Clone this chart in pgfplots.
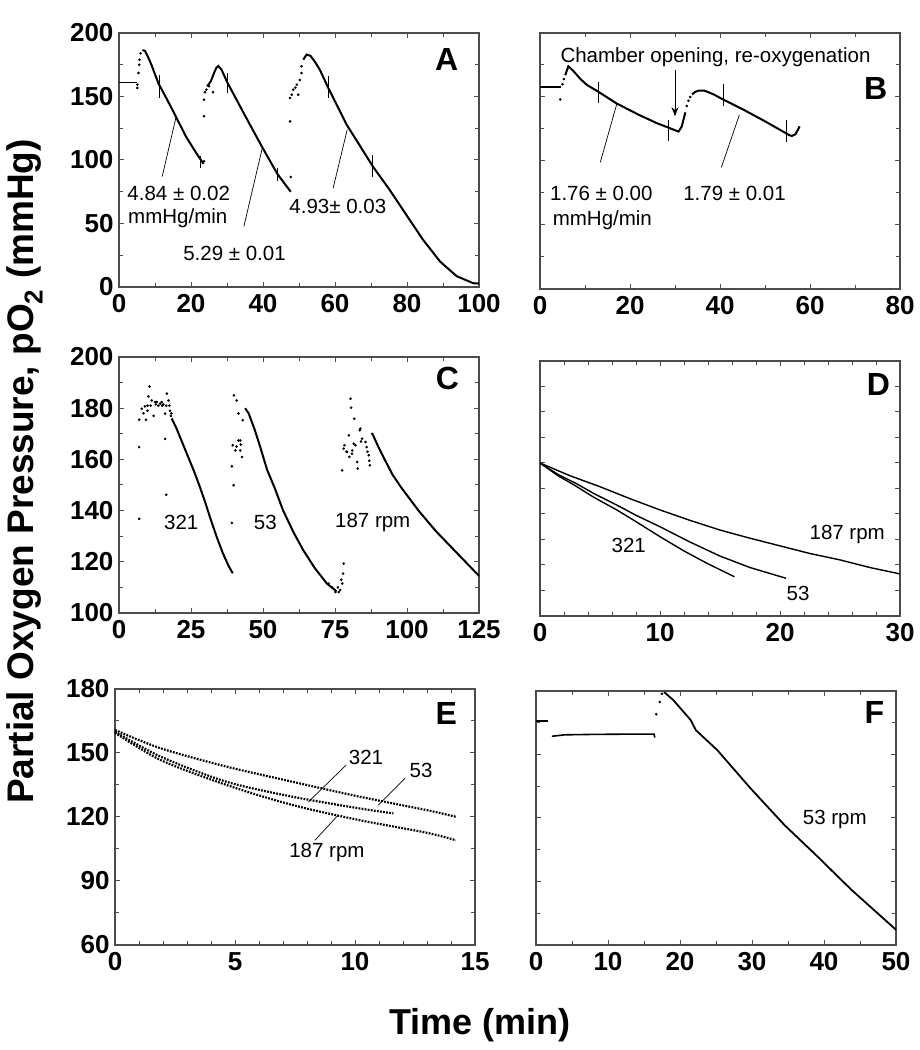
\documentclass[border=0pt]{standalone}
\usepackage{pgfplots}
\pgfplotsset{compat=1.18}
\usetikzlibrary{arrows.meta}
\usepackage{fontspec}
\setmainfont{Liberation Sans}
\newcommand\tickfont{\fontsize{26}{26}\selectfont\bfseries}
\newcommand\annfont{\fontsize{20.5}{22}\selectfont}
\newcommand\letfont{\fontsize{32}{32}\selectfont\bfseries}
\tikzset{lead/.style={black, line width=0.7pt}}
\pgfplotsset{
  panel/.style={
    scale only axis, width=360pt, height=255pt, anchor=south west,
    tick align=inside,
    axis line style={draw=black!70, line width=1.3pt},
    every tick/.style={black!70, line width=1pt},
    major tick length=5pt, minor tick length=4pt,
    tick label style={font=\tickfont},
    /pgf/number format/assume math mode=true,
    xticklabel style={yshift=-4pt},
    yticklabel style={xshift=-2pt},
    clip=false,
  },
  curve/.style={black, line width=2pt, no marks},
  dots/.style={black, only marks, mark=*, mark size=1.1pt},
  fit/.style={black, line width=0.9pt, no marks},
}
\begin{document}
\begin{tikzpicture}
\path[use as bounding box] (0,0) rectangle (919pt,1050pt);

% ---------------- A
\begin{axis}[panel, at={(119pt,763pt)}, height=254pt,
  xmin=0, xmax=100, ymin=0, ymax=200,
  xtick={0,20,...,100}, ytick={0,50,...,200}, minor x tick num=1, minor y tick num=1]
\addplot[curve, line width=1.6pt] coordinates {(0,161) (5.1,161)};
\addplot[dots] coordinates {(5.1,159.3) (5.1,156.7) (5.4,168.5) (5.6,175) (5.7,179) (6,184)};
\addplot[curve] coordinates {(6.5,186.5) (7.2,186) (8,181.5) (9,175) (10,167.5) (11,160) (13,149.5) (15.3,137) (18.5,119) (21,107.5) (23.1,98.5) (23.5,97)};
\addplot[dots] coordinates {(23.6,147.5) (23.6,134.4) (23.9,153.3) (24.3,155.4) (25,158) (26.1,153.3) (23.6,99)};
\addplot[curve] coordinates {(24.5,158) (25.5,162) (26.4,168.5) (27,172.4) (27.6,174) (28.5,171) (30.1,161) (35,135) (39.8,110) (44,89) (47.7,75)};
\addplot[dots] coordinates {(47.7,86.6) (47.5,148.8) (47.5,130.4) (47.96,151.4) (48.4,155.4) (49.4,159.3) (49.8,151.4) (50.7,168.5) (50.7,173.8) (49,157) (50.2,163)};
\addplot[curve] coordinates {(51.2,179) (52.1,183) (53.2,182) (54.5,177) (55.8,171) (58.1,157) (63.2,128) (70.5,95) (75.3,76) (80,56) (84.5,37) (89.2,20) (93.8,8.5) (98.4,3) (100,2.7)};
\addplot[fit] coordinates {(11.1,148.8) (11.1,167)};
\addplot[fit] coordinates {(22.7,93.7) (22.7,102.9)};
\addplot[fit] coordinates {(30.1,152.8) (30.1,168.5)};
\addplot[fit] coordinates {(44,83.2) (44,93.7)};
\addplot[fit] coordinates {(58.1,148.8) (58.1,165.9)};
\addplot[fit] coordinates {(70.5,87) (70.5,104)};
\draw[lead] (axis cs:12,87) -- (axis cs:15.9,134.4);
\draw[lead] (axis cs:34.7,47.8) -- (axis cs:39.8,109.4);
\draw[lead] (axis cs:59.5,78) -- (axis cs:63.4,124);
\node[anchor=west, font=\annfont, inner sep=0pt] at (axis cs:2.3,74) {4.84 ± 0.02};
\node[anchor=west, font=\annfont, inner sep=0pt] at (axis cs:2.5,54) {mmHg/min};
\node[anchor=west, font=\annfont, inner sep=0pt] at (axis cs:17.8,26.8) {5.29 ± 0.01};
\node[anchor=west, font=\annfont, inner sep=0pt] at (axis cs:47.3,63.5) {4.93± 0.03};
\node[font=\letfont] at (axis cs:91,179) {A};
\end{axis}

% ---------------- B
\begin{axis}[panel, at={(540pt,761pt)}, height=256pt,
  xmin=0, xmax=80, ymin=0, ymax=200,
  xtick={0,20,...,80}, ytick={0,50,...,200}, minor x tick num=1, minor y tick num=1, yticklabels={}]
\addplot[curve, line width=1.6pt] coordinates {(0,158) (4.7,158)};
\addplot[dots] coordinates {(4.5,148) (5,160) (5.3,164)};
\addplot[curve] coordinates {(5.6,167) (6.3,174) (7.5,170) (9,164) (10.4,159.5) (13,154) (17,145) (22,136) (26,129.5) (28.6,126) (30,124) (30.8,123) (31.5,127) (32.3,138)};
\addplot[dots] coordinates {(32.6,143) (33,147) (33.4,150)};
\addplot[curve] coordinates {(33.8,152) (34.5,154) (35.3,155) (36.5,155) (38.6,152) (40.7,148) (45,140.5) (50,131) (54.5,122) (55.5,120) (56,119.6) (56.8,121) (57.7,127)};
\addplot[fit] coordinates {(13,145) (13,162)};
\addplot[fit] coordinates {(28.6,116) (28.6,132)};
\addplot[fit] coordinates {(40.7,143) (40.7,160)};
\addplot[fit] coordinates {(54.8,115) (54.8,132)};
\draw[lead] (axis cs:13.4,99) -- (axis cs:17.1,145);
\draw[lead] (axis cs:40.3,95) -- (axis cs:44.3,136);
\draw[-{Stealth[length=9pt,width=7pt]}, line width=1pt] (axis cs:30,171) -- (axis cs:30,135);
\node[font=\annfont, inner sep=0pt] at (axis cs:39,181) {Chamber opening, re-oxygenation};
\node[anchor=west, font=\annfont, inner sep=0pt] at (axis cs:2.2,75) {1.76 ± 0.00};
\node[anchor=west, font=\annfont, inner sep=0pt] at (axis cs:2.8,54) {mmHg/min};
\node[anchor=west, font=\annfont, inner sep=0pt] at (axis cs:31.8,75) {1.79 ± 0.01};
\node[font=\letfont] at (axis cs:74.6,157) {B};
\end{axis}

% ---------------- C
\begin{axis}[panel, at={(119pt,437pt)}, height=256pt,
  xmin=0, xmax=125, ymin=100, ymax=200,
  xtick={0,25,...,125}, ytick={100,120,...,200}, minor x tick num=1, minor y tick num=1]
\addplot[dots] coordinates {(7,175.5) (7,164.8) (7,136.8) (7.9,179.8) (9,180.7) (9.9,181) (10.6,188.5) (11.4,183) (9.4,175.5) (12,177) (13.1,182.4) (14.3,181.8) (15.4,181.5) (16.4,181) (16.6,185.7) (17.2,183) (16,177.9) (16,168) (16.4,146.2) (17.7,179) (18,177) (10.2,184.6) (12.5,182.4) (13.7,181) (14.8,182.4) (9.9,179) (8.5,178) (11,181) (12.8,181.5) (15,181) (17.5,181) (18.2,178)};
\addplot[curve] coordinates {(18.3,176) (20,172) (22,166.5) (24,161) (26,155.5) (28,149.5) (30,143) (32,136) (34,129.5) (36,123.5) (38,118.5) (39.5,115.5)};
\addplot[dots] coordinates {(39.2,157.3) (39.8,149.9) (39.2,135.2) (39.5,165.5) (39.9,185) (40.9,183) (41.5,177.9) (42.1,167.4) (42.1,163.5) (42.7,160.9) (43,175.3) (40.4,163.5) (41.5,167.4) (40.8,165) (42.3,165.8)};
\addplot[curve] coordinates {(43.8,180) (45,178) (47,172) (49,165) (51.4,156) (54,149) (57,140) (60.6,131.5) (64,124.5) (68,117.5) (72.2,111.5) (75.5,108.5)};
\addplot[dots] coordinates {(72.8,111.5) (74,110) (75.2,108.2) (76.3,108.2) (76.8,109) (77.5,111.5) (77.8,115.4) (78,119.3) (77.2,113) (76,110)};
\addplot[dots] coordinates {(77.5,155.7) (78,164.2) (78.3,165.5) (79.2,162.9) (79.8,169.4) (80.4,183.7) (80.6,180.2) (80.9,162.2) (81.5,166.1) (81.7,175.9) (82.1,165.5) (82.7,159) (82.9,156.4) (83.6,171.4) (83.8,172) (84.4,168.1) (85.6,166.8) (86,164.8) (86.7,161.6) (87.1,157.7) (87.9,170) (79,163) (80,161) (81,163.5) (84,167) (86.3,163) (86.9,159.5)};
\addplot[curve] coordinates {(88,170) (90,165) (92,160.5) (95,154) (98,149) (101,144.5) (104,140) (107,136) (110,132) (113,128.5) (116,125) (119,121.5) (122,118) (125,114.5)};
\node[font=\annfont] at (axis cs:21.6,135.2) {321};
\node[font=\annfont] at (axis cs:50.8,135.2) {53};
\node[font=\annfont] at (axis cs:88.1,135.2) {187 rpm};
\node[font=\letfont] at (axis cs:114,191.8) {C};
\end{axis}

% ---------------- D
\begin{axis}[panel, at={(540pt,434pt)}, height=255pt,
  xmin=0, xmax=30, ymin=100, ymax=200,
  xtick={0,10,20,30}, ytick={100,110,...,200}, minor x tick num=4, yticklabels={}]
\addplot[curve, line width=1.4pt] coordinates {(0,160) (2.5,155) (5,150.7) (7.5,146) (10,141.6) (12.5,137.5) (15,133.7) (17.5,130.5) (20,127.5) (22.5,124.5) (25,122) (27.5,119) (30,116.5)};
\addplot[curve, line width=1.4pt] coordinates {(0,160) (1.5,155.5) (3,152) (4.5,148) (6.4,143.5) (8,139.5) (10,135) (12.5,129) (15,123.5) (17.5,119) (20.5,114.8)};
\addplot[curve, line width=1.4pt] coordinates {(0,160) (1.5,155) (2.8,151.5) (4.5,146.5) (6.4,141.6) (8,137) (10,131.1) (12,125.5) (13.9,120.7) (16.2,115.4)};
\node[font=\annfont] at (axis cs:7.4,127.8) {321};
\node[font=\annfont] at (axis cs:21.5,109) {53};
\node[font=\annfont] at (axis cs:25.6,131.8) {187 rpm};
\node[font=\letfont] at (axis cs:28.2,190.6) {D};
\end{axis}

% ---------------- E
\begin{axis}[panel, at={(115pt,105pt)}, height=256pt,
  xmin=0, xmax=15, ymin=60, ymax=180,
  xtick={0,5,10,15}, ytick={60,90,...,180}, minor x tick num=4, minor y tick num=1]
\addplot[black, line width=2.2pt, dash pattern=on 1.8pt off 1.3pt, smooth] coordinates {(0,160.8) (1.9,152.2) (4.65,143.6) (7.4,136.5) (10.2,129.5) (13,123.2) (14.2,120.1)};
\addplot[black, line width=2.2pt, dash pattern=on 1.8pt off 1.3pt, smooth] coordinates {(0,160) (1.9,148.3) (4.65,136.5) (7.4,129.5) (10.2,124) (11.6,121.7)};
\addplot[black, line width=2.2pt, dash pattern=on 1.8pt off 1.3pt, smooth] coordinates {(0,159.5) (1.9,146.7) (4.65,135) (7.4,125.6) (10.2,118.5) (13,112.6) (14.2,109.1)};
\draw[lead] (axis cs:8.06,127.1) -- (axis cs:9.63,144.3);
\draw[lead] (axis cs:10.97,125.6) -- (axis cs:12.08,138.1);
\draw[lead] (axis cs:8.33,109.1) -- (axis cs:9.3,120.9);
\node[font=\annfont] at (axis cs:10.46,147.7) {321};
\node[font=\annfont] at (axis cs:12.75,142) {53};
\node[font=\annfont] at (axis cs:8.83,103.6) {187 rpm};
\node[font=\letfont] at (axis cs:13.8,168.6) {E};
\end{axis}

% ---------------- F
\begin{axis}[panel, at={(536pt,105pt)}, height=254pt,
  xmin=0, xmax=50, ymin=60, ymax=180,
  xtick={0,10,...,50}, ytick={60,90,...,180}, minor x tick num=1, minor y tick num=1, yticklabels={}]
\addplot[curve, line width=1.6pt] coordinates {(0,165.7) (1.7,165.7)};
\addplot[curve, line width=1.6pt] coordinates {(2.2,158.6) (4,159.3) (8,159.5) (12,159.6) (16.4,159.6) (16.5,158)};
\addplot[dots] coordinates {(16.7,169) (17.2,174.8) (17.5,178.7)};
\addplot[curve, line width=1.8pt] coordinates {(17.8,179.5) (19.1,175.6) (21.5,166.2) (22.2,161.5) (25.2,152) (29.8,134) (34.5,116.7) (39.1,101.8) (43.8,86.1) (50,67.2)};
\node[font=\annfont] at (axis cs:41.5,119.5) {53 rpm};
\node[font=\letfont] at (axis cs:47,170) {F};
\end{axis}

\node[rotate=90, anchor=base, font=\fontsize{37}{37}\selectfont\bfseries] at (33pt,578.5pt) {Partial Oxygen Pressure, pO\textsubscript{2} (mmHg)};
\node[anchor=base, font=\fontsize{36}{36}\selectfont\bfseries] at (480pt,16pt) {Time (min)};
\end{tikzpicture}
\end{document}
